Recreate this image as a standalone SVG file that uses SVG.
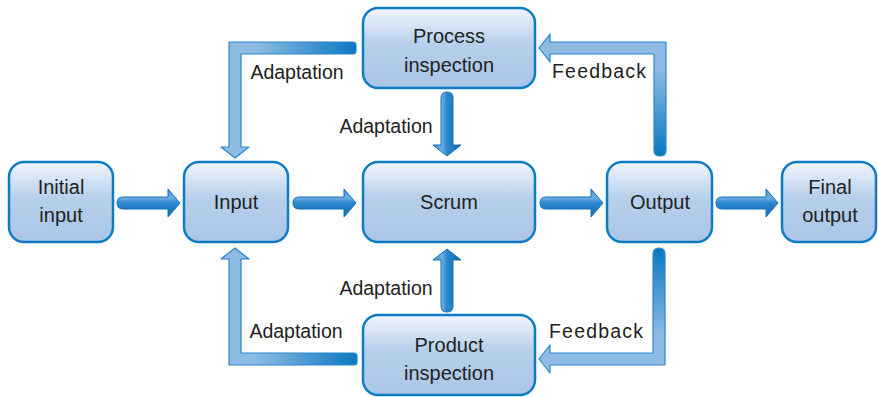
<svg xmlns="http://www.w3.org/2000/svg" width="878" height="397" viewBox="0 0 878 397">
<defs>
  <linearGradient id="boxG" x1="0" y1="0" x2="0" y2="1">
    <stop offset="0" stop-color="#f2f6fc"/>
    <stop offset="0.45" stop-color="#b6cfeb"/>
    <stop offset="1" stop-color="#aac5e6"/>
  </linearGradient>
  <linearGradient id="hG" x1="0" y1="0" x2="0" y2="1">
    <stop offset="0" stop-color="#3f93d5"/>
    <stop offset="0.32" stop-color="#6eaee2"/>
    <stop offset="0.5" stop-color="#2b88cd"/>
    <stop offset="1" stop-color="#0e6cb3"/>
  </linearGradient>
  <linearGradient id="vG" x1="0" y1="0" x2="1" y2="0">
    <stop offset="0" stop-color="#3f93d5"/>
    <stop offset="0.32" stop-color="#6eaee2"/>
    <stop offset="0.5" stop-color="#2b88cd"/>
    <stop offset="1" stop-color="#0e6cb3"/>
  </linearGradient>
  <linearGradient id="gTL" gradientUnits="userSpaceOnUse" x1="356" y1="0" x2="255" y2="0">
    <stop offset="0" stop-color="#0a78c0"/>
    <stop offset="1" stop-color="#8dbbe4"/>
  </linearGradient>
  <linearGradient id="gBL" gradientUnits="userSpaceOnUse" x1="357" y1="0" x2="255" y2="0">
    <stop offset="0" stop-color="#0a78c0"/>
    <stop offset="1" stop-color="#8dbbe4"/>
  </linearGradient>
  <linearGradient id="gTR" gradientUnits="userSpaceOnUse" x1="0" y1="155" x2="0" y2="70">
    <stop offset="0" stop-color="#0a78c0"/>
    <stop offset="1" stop-color="#8dbbe4"/>
  </linearGradient>
  <linearGradient id="gBR" gradientUnits="userSpaceOnUse" x1="0" y1="248" x2="0" y2="335">
    <stop offset="0" stop-color="#0a78c0"/>
    <stop offset="1" stop-color="#8dbbe4"/>
  </linearGradient>
</defs>
<style>
  .box { fill: url(#boxG); stroke: #0e7cc4; stroke-width: 2.5; }
  .lbl { font-family: "Liberation Sans", Arial, sans-serif; font-size: 20px; fill: #222; text-anchor: middle; }
  .edge { font-family: "Liberation Sans", Arial, sans-serif; font-size: 19.5px; fill: #222; text-anchor: middle; }
  .ha { fill: url(#hG); stroke: #1570b7; stroke-width: 1; stroke-linejoin: round; }
  .va { fill: url(#vG); stroke: #1570b7; stroke-width: 1; stroke-linejoin: round; }
  .el { stroke: #2a86cc; stroke-width: 1.2; stroke-linejoin: round; }
</style>

<g id="connectors">
  <!-- straight horizontal arrows -->
  <path class="ha" d="M123,197 L168,197 L168,189 L180,203 L168,217 L168,209 L123,209 Q117,209 117,203 Q117,197 123,197 Z"/>
  <path class="ha" d="M299,197 L344,197 L344,189 L356,203 L344,217 L344,209 L299,209 Q293,209 293,203 Q293,197 299,197 Z"/>
  <path class="ha" d="M546,197 L591,197 L591,189 L603,203 L591,217 L591,209 L546,209 Q540,209 540,203 Q540,197 546,197 Z"/>
  <path class="ha" d="M722,197 L766,197 L766,189 L778,203 L766,217 L766,209 L722,209 Q716,209 716,203 Q716,197 722,197 Z"/>
  <!-- vertical arrows -->
  <path class="va" d="M441,98 Q441,92 447,92 Q453,92 453,98 L453,145 L461,145 L447,156 L433,145 L441,145 Z"/>
  <path class="va" d="M441,306 Q441,312 447,312 Q453,312 453,306 L453,260 L461,260 L447,249 L433,260 L441,260 Z"/>
  <!-- elbow arrows -->
  <path class="el" fill="url(#gTL)" d="M353,42 L229,42 L229,147 L221,147 L235,158 L249,147 L241,147 L241,54 L353,54 Q356,54 356,51 L356,45 Q356,42 353,42 Z"/>
  <path class="el" fill="url(#gTR)" d="M654,150 L654,54 L550,54 L550,62 L539,48 L550,34 L550,42 L666,42 L666,150 Q666,156 660,156 Q654,156 654,150 Z"/>
  <path class="el" fill="url(#gBL)" d="M354,353 L241,353 L241,259 L249,259 L235,248 L221,259 L229,259 L229,365 L354,365 Q357,365 357,362 L357,356 Q357,353 354,353 Z"/>
  <path class="el" fill="url(#gBR)" d="M653,254 Q653,248 659,248 Q665,248 665,254 L665,365 L550,365 L550,373 L539,359 L550,345 L550,353 L653,353 Z"/>
  <!-- connector labels -->
  <text class="edge" x="297" y="79">Adaptation</text>
  <text class="edge" x="386" y="133">Adaptation</text>
  <text class="edge" x="599" y="78" textLength="94" lengthAdjust="spacing">Feedback</text>
  <text class="edge" x="386" y="295">Adaptation</text>
  <text class="edge" x="296" y="338">Adaptation</text>
  <text class="edge" x="596" y="338" textLength="94" lengthAdjust="spacing">Feedback</text>
</g>

<g id="initial-input">
  <rect class="box" x="9" y="162" width="104" height="80" rx="15"/>
  <text class="lbl" x="61" y="194">Initial</text>
  <text class="lbl" x="61" y="222">input</text>
</g>
<g id="input">
  <rect class="box" x="184" y="162" width="104" height="80" rx="15"/>
  <text class="lbl" x="236" y="209">Input</text>
</g>
<g id="scrum">
  <rect class="box" x="363" y="162" width="172" height="80" rx="15"/>
  <text class="lbl" x="449" y="209">Scrum</text>
</g>
<g id="output">
  <rect class="box" x="607" y="162" width="105" height="80" rx="15"/>
  <text class="lbl" x="660" y="209">Output</text>
</g>
<g id="final-output">
  <rect class="box" x="782" y="162" width="94" height="80" rx="15"/>
  <text class="lbl" x="830" y="194">Final</text>
  <text class="lbl" x="830" y="222">output</text>
</g>
<g id="process-inspection">
  <rect class="box" x="363" y="8" width="172" height="80" rx="15"/>
  <text class="lbl" x="449" y="43">Process</text>
  <text class="lbl" x="449" y="72">inspection</text>
</g>
<g id="product-inspection">
  <rect class="box" x="363" y="315" width="172" height="80" rx="15"/>
  <text class="lbl" x="449" y="352">Product</text>
  <text class="lbl" x="449" y="380">inspection</text>
</g>
</svg>
